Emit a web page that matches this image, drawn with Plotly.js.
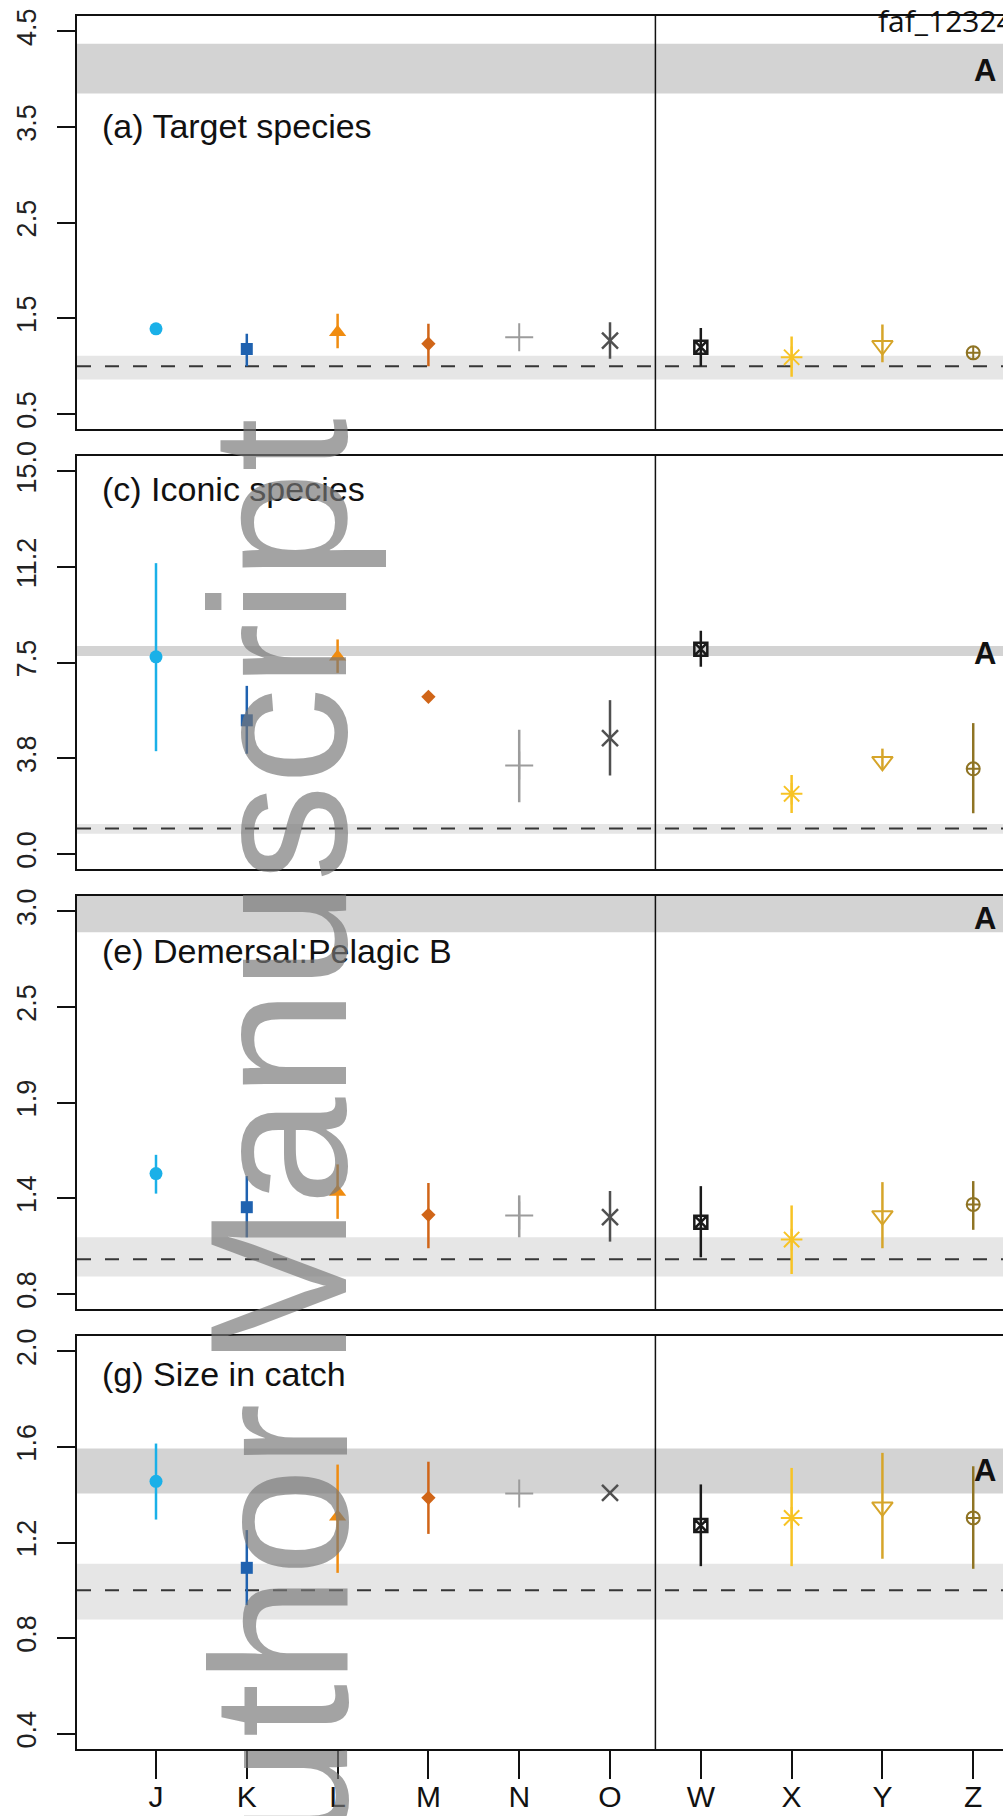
<!DOCTYPE html>
<html>
<head>
<meta charset="utf-8">
<script src="https://cdn.plot.ly/plotly-3.0.1.min.js"></script>
<style>
  html, body { margin: 0; padding: 0; overflow: hidden; background: #fff; }
  #chart { width: 1012px; height: 1816px; }
</style>
</head>
<body>
<div id="chart"></div>
<script>
// ---------------- DATA ----------------
const categories = ['J', 'K', 'L', 'M', 'N', 'O', 'W', 'X', 'Y', 'Z'];

const panelTitles = ['(a) Target species', '(c) Iconic species', '(e) Demersal:Pelagic B', '(g) Size in catch'];

// (a) Target species
const aMean = [1.39, 1.18, 1.355, 1.234, 1.303, 1.268, 1.198, 1.093, 1.216, 1.139];
const aLow  = [1.39, 1.00, 1.188, 1.00, 1.303, 1.077, 1.00, 0.89, 1.04, 1.139];
const aHigh = [1.39, 1.34, 1.548, 1.443, 1.303, 1.46, 1.40, 1.31, 1.436, 1.139];

// (c) Iconic species
const cMean = [7.73, 5.24, 7.73, 6.16, 3.47, 4.54, 8.03, 2.36, 3.63, 3.34];
const cLow  = [4.03, 3.93, 7.10, 6.16, 2.03, 3.08, 7.34, 1.61, 3.30, 1.60];
const cHigh = [11.40, 6.59, 8.41, 6.16, 4.87, 6.03, 8.75, 3.10, 4.13, 5.13];

// (e) Demersal:Pelagic B
const eMean = [1.492, 1.299, 1.386, 1.255, 1.251, 1.242, 1.213, 1.113, 1.25, 1.315];
const eLow  = [1.377, 1.126, 1.232, 1.063, 1.126, 1.101, 1.011, 0.915, 1.063, 1.169];
const eHigh = [1.60, 1.478, 1.545, 1.438, 1.367, 1.392, 1.42, 1.309, 1.443, 1.449];

// (g) Size in catch
const gMean = [1.456, 1.094, 1.308, 1.387, 1.405, 1.408, 1.271, 1.303, 1.349, 1.303];
const gLow  = [1.296, 0.938, 1.073, 1.236, 1.405, 1.408, 1.101, 1.101, 1.132, 1.09];
const gHigh = [1.614, 1.252, 1.526, 1.538, 1.405, 1.408, 1.443, 1.512, 1.575, 1.519];

// reference bands (lower band around 1, upper band labelled "A")
const lowerBand = [[0.86, 1.11], [0.79, 1.18], [0.90, 1.126], [0.878, 1.111]];
const upperBand = [[3.85, 4.37], [7.76, 8.15], [2.88, 3.3], [1.405, 1.593]];
const letterY = [4.09, 7.86, 2.96, 1.50];
const letterText = ['A', 'A', 'A', 'A'];
const refLine = [1, 1, 1, 1];

// y-axis ticks
const yTickVals = [[0.5, 1.5, 2.5, 3.5, 4.5], [0, 3.75, 7.5, 11.25, 15], [0.8, 1.35, 1.9, 2.45, 3.0], [0.4, 0.8, 1.2, 1.6, 2.0]];
const yTickText = [['0.5', '1.5', '2.5', '3.5', '4.5'], ['0.0', '3.8', '7.5', '11.2', '15.0'], ['0.8', '1.4', '1.9', '2.5', '3.0'], ['0.4', '0.8', '1.2', '1.6', '2.0']];

// watermark words
const watermarkWords = ['Manuscript', 'Author'];

// ---------------- STYLE ----------------
const FONT = 'Liberation Sans, Arial, Helvetica, sans-serif';
const colors = ['#1ab0e8', '#1f62b0', '#f08c10', '#d06518', '#9c9c9c', '#505050', '#1a1a1a', '#f7c325', '#d6a52a', '#8f7424'];
const symbols = ['circle', 'square', 'triangle-up', 'diamond', 'cross-thin-open', 'x-thin-open', 'square-x-open', 'asterisk-open', 'triangle-down-open', 'circle-cross-open'];
const sizes = [13, 12, 15, 11, 20, 16, 13, 18, 18, 13];
const lineW = [0, 0, 0, 0, 2, 2.5, 2.5, 2, 2, 2];

const means = [aMean, cMean, eMean, gMean];
const lows = [aLow, cLow, eLow, gLow];
const highs = [aHigh, cHigh, eHigh, gHigh];

// panel geometry (pixels), plot area 77..1010 x 16..1749
const H = 1816, TOP = 16, BOT = 67;
const plotH = H - TOP - BOT;
const panelTopPx = [16, 456, 896, 1336];
const panelBotPx = [429.3, 869.3, 1309.3, 1749];
const frac = py => (H - BOT - py) / plotH;

const xRange = [-0.87, 9.405];

const traces = [];
const shapes = [];
const annotations = [];
const layout = {
  width: 1012, height: H,
  margin: {l: 77, r: 2, t: TOP, b: BOT},
  paper_bgcolor: '#ffffff', plot_bgcolor: '#ffffff',
  showlegend: false,
  font: {family: FONT, color: '#111'}
};

for (let p = 0; p < 4; p++) {
  const n = p + 1;
  const xa = 'x' + (n === 1 ? '' : n);
  const ya = 'y' + (n === 1 ? '' : n);
  const isBottom = p === 3;
  const yr = yTickVals[p];
  const span = yr[yr.length - 1] - yr[0];
  layout['xaxis' + (n === 1 ? '' : n)] = {
    type: 'category', categoryorder: 'array', categoryarray: categories,
    range: xRange, domain: [0, 1], anchor: ya,
    showline: true, mirror: true, linewidth: 2, linecolor: '#111',
    showgrid: false, zeroline: false,
    ticks: isBottom ? 'outside' : '', ticklen: 28, tickwidth: 2, tickcolor: '#111',
    ticklabelstandoff: -8,
    showticklabels: isBottom, tickfont: {size: 30, color: '#111', family: FONT}
  };
  layout['yaxis' + (n === 1 ? '' : n)] = {
    range: [yr[0] - 0.04 * span, yr[yr.length - 1] + 0.04 * span],
    domain: [frac(panelBotPx[p]), frac(panelTopPx[p])], anchor: xa,
    tickmode: 'array', tickvals: yTickVals[p], ticktext: yTickText[p], tickangle: -90,
    ticks: 'outside', ticklen: 18, tickwidth: 2, tickcolor: '#111',
    ticklabelstandoff: 10,
    tickfont: {size: 27, color: '#222', family: FONT},
    showline: true, mirror: true, linewidth: 2, linecolor: '#111',
    showgrid: false, zeroline: false
  };

  // bands
  shapes.push({type: 'rect', xref: xa + ' domain', x0: 0, x1: 1, yref: ya, y0: upperBand[p][0], y1: upperBand[p][1],
    fillcolor: '#d3d3d3', line: {width: 0}, layer: 'below'});
  shapes.push({type: 'rect', xref: xa + ' domain', x0: 0, x1: 1, yref: ya, y0: lowerBand[p][0], y1: lowerBand[p][1],
    fillcolor: '#e6e6e6', line: {width: 0}, layer: 'below'});
  // reference dashed line
  shapes.push({type: 'line', xref: xa + ' domain', x0: 0, x1: 1, yref: ya, y0: refLine[p], y1: refLine[p],
    line: {color: '#363636', width: 2, dash: '14px,14px'}, layer: 'below'});
  // divider
  shapes.push({type: 'line', xref: xa, x0: 5.5, x1: 5.5, yref: ya + ' domain', y0: 0, y1: 1,
    line: {color: '#111', width: 1.5}, layer: 'above'});

  // points
  for (let k = 0; k < categories.length; k++) {
    const m = means[p][k];
    traces.push({
      type: 'scatter', mode: 'markers', xaxis: xa, yaxis: ya,
      x: [categories[k]], y: [m],
      error_y: {type: 'data', symmetric: false, array: [highs[p][k] - m], arrayminus: [m - lows[p][k]],
        color: colors[k], thickness: 2.5, width: 0},
      marker: {symbol: symbols[k], size: sizes[k], color: colors[k],
        line: {color: colors[k], width: lineW[k]}},
      hoverinfo: 'skip'
    });
  }

  // panel title
  annotations.push({xref: 'paper', x: (100 - 77) / 933, xanchor: 'left',
    yref: 'paper', y: frac([126, 488.5, 950.8, 1374][p]), yanchor: 'middle',
    text: panelTitles[p], showarrow: false, font: {size: 34, family: FONT, color: '#111'}});
  // significance letter
  annotations.push({xref: xa, x: 9.13, xanchor: 'center', yref: ya, y: letterY[p], yanchor: 'middle',
    text: '<b>' + letterText[p] + '</b>', showarrow: false, font: {size: 31, family: FONT, color: '#111'}});
}

// file tag at top right
annotations.push({xref: 'paper', x: (876 - 77) / 933, xanchor: 'left', yref: 'paper', y: frac(20), yanchor: 'middle',
  text: 'faf_12324', showarrow: false, font: {size: 30, family: 'Open Sans, Noto Sans, DejaVu Sans, sans-serif', color: '#111'}});

// watermark (two words, rotated, reading upward)
const wmCenterY = [893, 1689];
for (let w = 0; w < watermarkWords.length; w++) {
  annotations.push({xref: 'paper', x: (279 - 77) / 933, xanchor: 'center', yref: 'paper', y: frac(wmCenterY[w]), yanchor: 'middle',
    text: watermarkWords[w], textangle: -90, showarrow: false,
    font: {size: 194, family: FONT, color: 'rgba(120,120,120,0.68)'}});
}

layout.shapes = shapes;
layout.annotations = annotations;

Plotly.newPlot('chart', traces, layout, {displayModeBar: false, staticPlot: true});
</script>
</body>
</html>
